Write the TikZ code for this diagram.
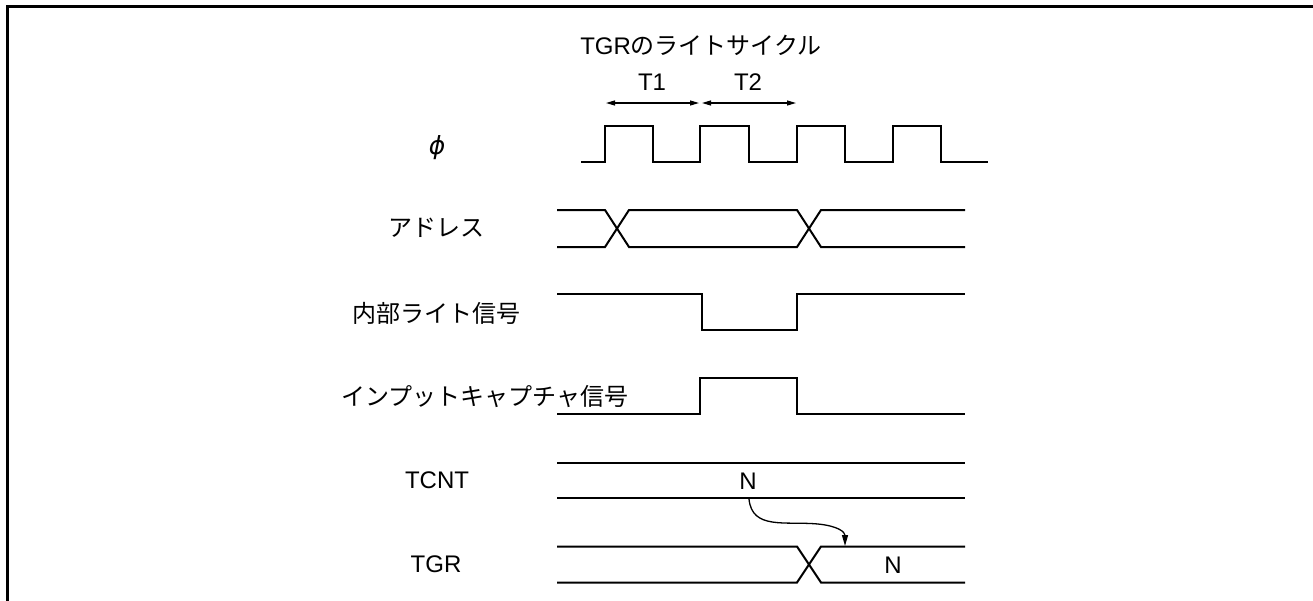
\documentclass[tikz,border=0pt]{standalone}
\usepackage{fontspec}
\setmainfont{Liberation Sans}
\newfontfamily\jp{Noto Sans CJK JP}
\newfontfamily\djv{DejaVu Sans}
\usetikzlibrary{arrows.meta}
\tikzset{
  sig/.style={line width=2pt, line join=miter},
  frame/.style={line width=2.3pt},
  lbl/.style={inner sep=0pt, font=\fontsize{24}{28}\selectfont},
  jlbl/.style={inner sep=0pt, font=\fontsize{24}{28}\selectfont\jp},
  dim/.style={line width=1.2pt, {Triangle[length=9pt,width=5pt]}-{Triangle[length=9pt,width=5pt]}},
  cause/.style={line width=1.3pt, -{Triangle[length=11pt,width=6pt]}}
}
\begin{document}
\begin{tikzpicture}[x=1pt,y=-1pt]
\useasboundingbox (0,0) rectangle (1313,600);
% frame (only top and left edges visible)
\draw[frame] (7.5,640) -- (7.5,6.5) -- (1340,6.5);

% title and cycle marks
\node[lbl] (title) at (701,45) {TGR{\jp のライトサイクル}};
\node[lbl] (t1) at (652,82) {T1};
\node[lbl] (t2) at (748,82) {T2};
\coordinate (a1) at (606,103);
\coordinate (a2) at (699,103);
\coordinate (a3) at (702,103);
\coordinate (a4) at (796,103);
\draw[dim] (a1) -- (a2);
\draw[dim] (a3) -- (a4);

% labels
\node[lbl, font=\fontsize{25}{28}\selectfont\djv\itshape] (phi) at (437,148) {ϕ};
\node[jlbl] (addr) at (436,228) {アドレス};
\node[jlbl] (wr) at (436,313) {内部ライト信号};
\node[jlbl] (ic) at (485,397) {インプットキャプチャ信号};
\node[lbl] (tcnt) at (437,480) {TCNT};
\node[lbl] (tgr) at (436,564) {TGR};

% phi clock
\draw[sig] (581,162) -- (605,162) -- (605,126) -- (653,126) -- (653,162)
  -- (700,162) -- (700,126) -- (749,126) -- (749,162)
  -- (797,162) -- (797,126) -- (845,126) -- (845,162)
  -- (893,162) -- (893,126) -- (941,126) -- (941,162) -- (988,162);

% address bus
\draw[sig] (557,210) -- (605,210) -- (629,247) -- (797,247) -- (821,210) -- (965,210);
\draw[sig] (557,247) -- (605,247) -- (629,210) -- (797,210) -- (821,247) -- (965,247);

% internal write signal
\draw[sig] (557,294) -- (702,294) -- (702,330) -- (797,330) -- (797,294) -- (965,294);

% input capture signal
\draw[sig] (557,414) -- (700,414) -- (700,378) -- (797,378) -- (797,414) -- (965,414);

% TCNT
\draw[sig] (557,462.5) -- (965,462.5);
\draw[sig] (557,498) -- (965,498);
\node[lbl] (ntcnt) at (748,481) {N};

% TGR
\draw[sig] (557,546.5) -- (797,546.5) -- (821,582.5) -- (965,582.5);
\draw[sig] (557,582.5) -- (797,582.5) -- (821,546.5) -- (965,546.5);
\node[lbl] (ntgr) at (893,565) {N};

% transfer arrow
\coordinate (src) at (749,499);
\coordinate (dst) at (845,546);
\draw[cause] (src) .. controls (752,530) and (785,521) .. (818,524)
  .. controls (838,526) and (845,532) .. (dst);
\end{tikzpicture}
\end{document}
